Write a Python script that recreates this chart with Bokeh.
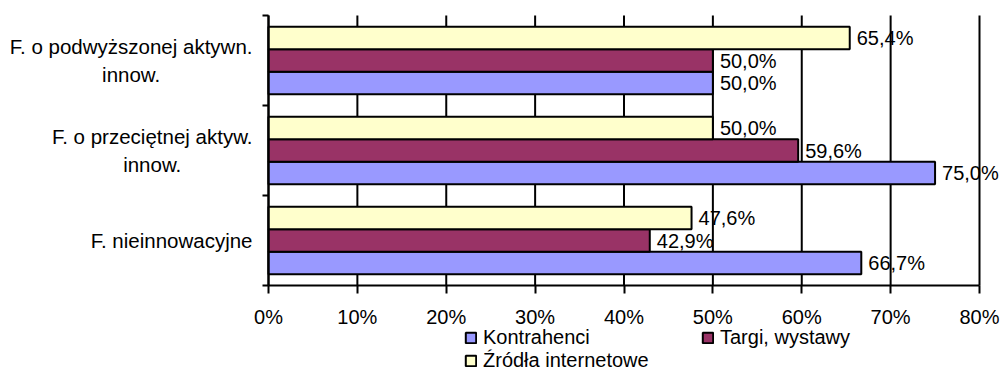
from bokeh.plotting import figure
from bokeh.models import (ColumnDataSource, Range1d, FixedTicker, LinearAxis,
                          Label, LabelSet)
from bokeh.core.properties import value
from bokeh.embed import file_html
from bokeh.resources import INLINE

# Firm groups, listed bottom to top
categories = [
    "F. nieinnowacyjne",
    "F. o przeciętnej aktyw.\ninnow.",
    "F. o podwyższonej aktywn.\ninnow.",
]

# Share of firms using each source of information (%)
kontrahenci = [66.7, 75.0, 50.0]
targi = [42.9, 59.6, 50.0]
zrodla = [47.6, 50.0, 65.4]

series_names = ["Kontrahenci", "Targi, wystawy", "Źródła internetowe"]
series_keys = ["kontrahenci", "targi", "zrodla"]
series_colors = ["#9999FF", "#993366", "#FFFFCC"]

x_ticks = [0, 10, 20, 30, 40, 50, 60, 70, 80]
tick_labels = ["0%", "10%", "20%", "30%", "40%", "50%", "60%", "70%", "80%"]

FONT = "Liberation Sans"
FONT_SIZE = "20px"

# canvas and plot-area geometry (pixels)
W, H = 1002, 369
AREA_L, AREA_R, AREA_T, AREA_B = 268, 979, 15, 285


def pct(v):
    return f"{v:.1f}".replace(".", ",") + "%"


# group i occupies the band [i, i + 1] on the y scale
n = len(categories)
centers = [i + 0.5 for i in range(n)]
bounds_y = list(range(n + 1))
bar_h = 0.25
offsets = [-bar_h, 0.0, bar_h]

data = {}
for key, vals, off in zip(series_keys, [kontrahenci, targi, zrodla], offsets):
    data[key] = vals
    data[key + "_y"] = [c + off for c in centers]
    data[key + "_lbl"] = [pct(v) for v in vals]
source = ColumnDataSource(data)

# the frame fills the canvas; ranges are stretched so that the value
# axis spans exactly the plot area and texts have room around it
x_lo, x_hi = x_ticks[0], x_ticks[-1]
kx = (x_hi - x_lo) / (AREA_R - AREA_L)
ky = n / (AREA_B - AREA_T)

p = figure(
    width=W, height=H,
    x_range=Range1d(x_lo - AREA_L * kx, x_hi + (W - AREA_R) * kx),
    y_range=Range1d(-(H - AREA_B) * ky, n + AREA_T * ky),
    output_backend="svg", toolbar_location=None,
    x_axis_type=None, y_axis_type=None,
    min_border=0,
)
p.outline_line_color = None
p.background_fill_color = "white"
p.grid.visible = False

# vertical gridlines, limited to the plot area
p.segment(x0=x_ticks, x1=x_ticks, y0=[0] * len(x_ticks), y1=[n] * len(x_ticks),
          line_color="black", line_width=2)

# bars: Kontrahenci at the bottom of each group, internet sources on top
for key, name, color in zip(series_keys, series_names, series_colors):
    p.hbar(y=key + "_y", left=0, right=key, height=bar_h, source=source,
           fill_color=color, line_color="black", line_width=2,
           legend_label=name)
    p.add_layout(LabelSet(
        x=key, y=key + "_y", text=key + "_lbl", source=source,
        x_offset=7, text_align="left", text_baseline="middle",
        text_font=value(FONT), text_font_size=value(FONT_SIZE),
        text_color="black"))

# category axis at x = 0: ticks on the group boundaries only
ya = LinearAxis(
    fixed_location=0, bounds=(0, n),
    ticker=FixedTicker(ticks=[], minor_ticks=bounds_y),
    major_tick_out=0, major_tick_in=0,
    minor_tick_out=6, minor_tick_in=0,
    minor_tick_line_color="black", minor_tick_line_width=2,
    axis_line_color="black", axis_line_width=2,
)
p.add_layout(ya, "left")

# category names: right-anchored blocks whose lines are centred
for c, cat in zip(centers, categories):
    p.add_layout(Label(
        x=0, y=c, x_offset=-16, text=cat,
        anchor="center_right", text_align="center", text_baseline="middle",
        text_line_height=1.2,
        text_font=FONT, text_font_size="20.5px", text_color="black"))

# value axis at y = 0
xa = LinearAxis(
    fixed_location=0, bounds=(x_lo, x_hi),
    ticker=FixedTicker(ticks=x_ticks),
    major_label_overrides=dict(zip(x_ticks, tick_labels)),
    major_tick_out=8, major_tick_in=0,
    minor_tick_out=0, minor_tick_in=0,
    axis_line_color="black", axis_line_width=2,
    major_tick_line_color="black", major_tick_line_width=2,
    major_label_standoff=12,
    major_label_text_font=FONT, major_label_text_font_size=FONT_SIZE,
    major_label_text_color="black",
)
p.add_layout(xa, "below")

# legend below the plot area, two columns
lg = p.legend[0]
lg.orientation = "horizontal"
lg.ncols = 2
lg.location = (464, -3)
lg.padding = 0
lg.margin = 0
lg.spacing = 0
lg.glyph_width = 13
lg.glyph_height = 13
lg.label_standoff = 6
lg.label_width = 218
lg.label_height = 19
lg.border_line_color = None
lg.background_fill_alpha = 0
lg.label_text_font = FONT
lg.label_text_font_size = FONT_SIZE
lg.label_text_color = "black"

open("out.html", "w").write(file_html(p, INLINE))
